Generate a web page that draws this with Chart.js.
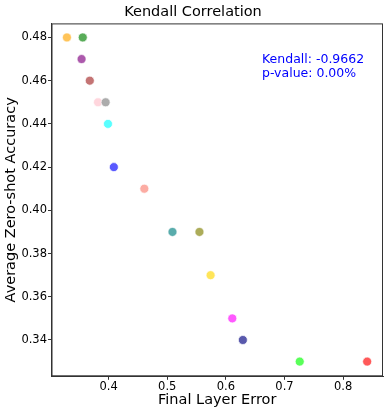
<!DOCTYPE html>
<html lang="en">
  <head>
    <meta charset="UTF-8" />
    <title>Kendall Correlation</title>
    <script src="https://cdn.jsdelivr.net/npm/chart.js"></script>
    <style>
      html, body { margin: 0; padding: 0; background: #fff; }
      #wrap { width: 389px; height: 413px; }
    </style>
  </head>
  <body>
    <div id="wrap"><canvas id="grafico"></canvas></div>
    <script>
      // data
      const finalLayerError = [0.329, 0.356, 0.354, 0.368, 0.382, 0.395, 0.399, 0.409,
        0.461, 0.509, 0.555, 0.574, 0.611, 0.629, 0.726, 0.841];
      const zeroShotAcc = [0.48, 0.48, 0.47, 0.46, 0.45, 0.45, 0.44, 0.42,
        0.41, 0.39, 0.39, 0.37, 0.35, 0.34, 0.33, 0.33];
      const xTicks = [0.4, 0.5, 0.6, 0.7, 0.8];
      const yTicks = [0.34, 0.36, 0.38, 0.40, 0.42, 0.44, 0.46, 0.48];
      const kendallTau = -0.9662;
      const pValue = 0.0;

      // one colour per model (rgb), drawn semi-transparent
      const colores = [
        [255, 165, 0], [0, 128, 0], [128, 0, 128], [165, 42, 42],
        [255, 192, 203], [128, 128, 128], [0, 255, 255], [0, 0, 255],
        [250, 128, 114], [0, 128, 128], [128, 128, 0], [255, 215, 0],
        [255, 0, 255], [0, 0, 128], [0, 255, 0], [255, 0, 0],
      ];

      const fontFam = "'DejaVu Sans', sans-serif";

      const puntos = finalLayerError.map((x, i) => ({ x: x, y: zeroShotAcc[i] }));

      // box around the plot + stats text
      const frameAndText = {
        id: "frameAndText",
        afterDraw(chart) {
          const { ctx, chartArea: a } = chart;
          ctx.save();
          ctx.strokeStyle = "#333";
          ctx.lineWidth = 1;
          ctx.strokeRect(a.left + 0.5, a.top + 0.5, a.right - a.left - 1, a.bottom - a.top - 1);
          ctx.fillStyle = "#0000ff";
          ctx.font = "12.5px " + fontFam;
          ctx.textBaseline = "middle";
          const tx = a.left + (a.right - a.left) * 0.635;
          ctx.fillText("Kendall: " + kendallTau.toFixed(4), tx, 60);
          ctx.fillText("p-value: " + (pValue * 100).toFixed(2) + "%", tx, 74);
          ctx.restore();
        },
      };

      new Chart(document.getElementById("grafico"), {
        type: "scatter",
        data: {
          datasets: [
            {
              data: puntos,
              backgroundColor: colores.map((c) => `rgba(${c[0]},${c[1]},${c[2]},0.65)`),
              borderColor: "rgba(255,255,255,0.7)",
              borderWidth: 1,
              pointRadius: 4.5,
            },
          ],
        },
        options: {
          responsive: true,
          maintainAspectRatio: false,
          animation: false,
          layout: { padding: { top: 2, right: 6, bottom: 4, left: 3 } },
          elements: { point: { hoverRadius: 4.5 } },
          plugins: {
            legend: { display: false },
            tooltip: { enabled: false },
            title: {
              display: true,
              text: "Kendall Correlation",
              color: "#000",
              font: { family: fontFam, size: 14.5, weight: "normal" },
              padding: { top: 2, bottom: 2 },
            },
          },
          scales: {
            x: {
              type: "linear",
              min: 0.3027,
              max: 0.868,
              afterBuildTicks: (s) => { s.ticks = xTicks.map((v) => ({ value: v })); },
              grid: { display: true, drawOnChartArea: false, tickLength: 3.5, color: "#333" },
              border: { display: true, color: "#333" },
              ticks: {
                color: "#000",
                font: { family: fontFam, size: 11.5 },
                padding: 0,
                callback: (v) => v.toFixed(1),
              },
              title: {
                display: true,
                text: "Final Layer Error",
                color: "#000",
                font: { family: fontFam, size: 14.5 },
                padding: { top: -2, bottom: 0 },
              },
            },
            y: {
              type: "linear",
              min: 0.3232,
              max: 0.4865,
              afterBuildTicks: (s) => { s.ticks = yTicks.map((v) => ({ value: v })); },
              grid: { display: true, drawOnChartArea: false, tickLength: 3.5, color: "#333" },
              border: { display: true, color: "#333" },
              ticks: {
                color: "#000",
                font: { family: fontFam, size: 11.5 },
                padding: 1,
                callback: (v) => v.toFixed(2),
              },
              title: {
                display: true,
                text: "Average Zero-shot Accuracy",
                color: "#000",
                font: { family: fontFam, size: 14.5 },
                padding: { top: 0, bottom: 0 },
              },
            },
          },
        },
        plugins: [frameAndText],
      });
    </script>
  </body>
</html>
